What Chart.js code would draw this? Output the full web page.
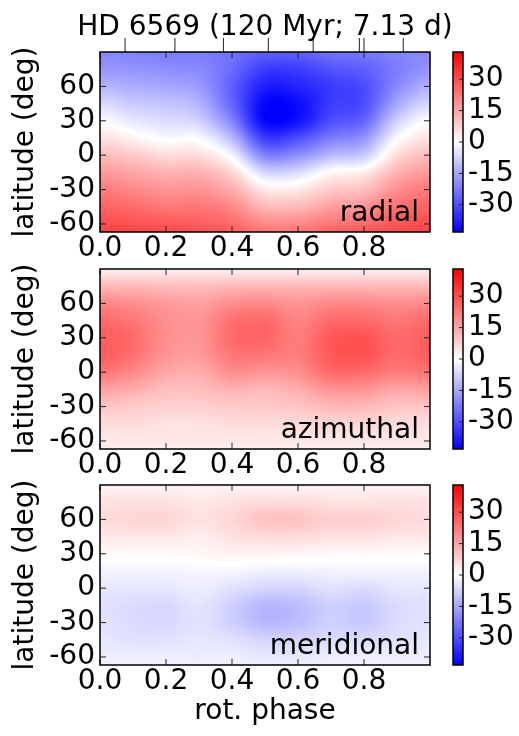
<!DOCTYPE html>
<html>
<head>
<meta charset="utf-8">
<script src="https://cdn.jsdelivr.net/npm/chart.js@4.4.1/dist/chart.umd.min.js"></script>
<style>
  html, body { margin: 0; padding: 0; background: #fff; overflow: hidden; }
  #fig { position: relative; width: 519px; height: 736px; }
  #fig canvas { position: absolute; }
</style>
</head>
<body>
<div id="fig"></div>
<script>
// map grid: rows are latitudes (top to bottom), columns are rotation phases
const phases = [0.0, 0.1, 0.2, 0.3, 0.4, 0.5, 0.6, 0.7, 0.8, 0.9, 1.0];
const latitudes = [90, 75, 60, 45, 30, 15, 0, -15, -30, -45, -60, -67];

// field strength (G)
const radial = [
  [-20, -21, -22, -22, -24, -27, -27, -24, -23, -21, -20],
  [-18, -18, -19, -20, -25, -33, -33, -29, -27, -22, -18],
  [-13, -14, -15, -17, -27, -38, -37, -33, -30, -20, -13],
  [-7, -9, -10, -13, -26, -42, -41, -33, -30, -15, -7],
  [-1, -4, -6, -8, -21, -42, -40, -30, -26, -8, 0],
  [5, 2, -1, -1, -12, -33, -30, -22, -18, -1, 5],
  [11, 9, 6, 6, -2, -21, -19, -12, -9, 6, 11],
  [17, 15, 13, 13, 7, -7, -6, 1, 3, 13, 17],
  [22, 20, 18, 18, 14, 4, 4, 9, 11, 19, 22],
  [26, 25, 23, 23, 20, 12, 12, 16, 18, 24, 26],
  [30, 29, 28, 27, 25, 20, 20, 23, 25, 28, 30],
  [31, 31, 30, 29, 27, 23, 23, 26, 28, 30, 31]
];
const azimuthal = [
  [3, 3, 3, 3, 3, 3, 3, 3, 3, 3, 3],
  [12, 12, 11, 11, 12, 12, 12, 12, 12, 12, 12],
  [20, 19, 17, 16, 19, 20, 18, 20, 20, 19, 20],
  [25, 23, 19, 18, 24, 25, 21, 25, 25, 23, 25],
  [27, 25, 19, 18, 25, 26, 22, 28, 29, 25, 27],
  [27, 24, 18, 17, 23, 23, 22, 28, 29, 25, 27],
  [23, 20, 15, 14, 19, 18, 19, 25, 25, 22, 23],
  [16, 14, 11, 11, 13, 12, 14, 18, 18, 15, 16],
  [10, 9, 8, 8, 9, 9, 10, 12, 12, 10, 10],
  [6, 6, 5, 5, 6, 6, 6, 7, 7, 6, 6],
  [4, 4, 4, 4, 4, 4, 4, 4, 4, 4, 4],
  [3, 3, 3, 3, 3, 3, 3, 3, 3, 3, 3]
];
const meridional = [
  [2, 2, 2, 2, 2, 2, 2, 2, 2, 2, 2],
  [5, 5, 5, 4, 5, 6, 6, 5, 5, 5, 5],
  [6, 7, 7, 5, 7, 10, 10, 8, 8, 7, 6],
  [4, 4, 4, 3, 5, 6, 6, 5, 5, 4, 4],
  [1, 1, 1, 1.5, 2, 2, 1.5, 1, 1, 1, 1],
  [-2, -2, -2, -1.5, -1.5, -2.5, -2.5, -2, -2, -2, -2],
  [-4, -4, -4, -3, -5, -7, -7, -5, -6, -4, -4],
  [-5, -6, -6.5, -4.5, -8, -12, -11, -8, -9, -6, -5],
  [-5, -6, -6.5, -5, -8, -12, -11, -8, -9, -6, -5],
  [-4, -5, -5, -4, -5, -7, -7, -6, -6, -5, -4],
  [-3, -3, -3, -3, -3, -4, -4, -3, -3, -3, -3],
  [-2.5, -2.5, -2.5, -2.5, -2.5, -3, -3, -2.5, -2.5, -2.5, -2.5]
];

const obsPhases = [0.076, 0.227, 0.374, 0.510, 0.646, 0.786, 0.800, 0.919];
const phaseTicks = [0.0, 0.2, 0.4, 0.6, 0.8];
const latTicks = [60, 30, 0, -30, -60];
const cbarTicks = [30, 15, 0, -15, -30];
const vmin = -43, vmax = 43;
const title = 'HD 6569 (120 Myr; 7.13 d)';

const panels = [
  { name: 'radial', grid: radial, top: 52 },
  { name: 'azimuthal', grid: azimuthal, top: 269 },
  { name: 'meridional', grid: meridional, top: 485 }
];

const FONT = 'DejaVu Sans';
const FS = 28;
Chart.defaults.font.family = FONT;
Chart.defaults.color = '#000';

// blue-white-red colour map
function bwr(v) {
  let t = (v - vmin) / (vmax - vmin);
  t = Math.max(0, Math.min(1, t));
  if (t < 0.5) {
    const s = Math.round(255 * t * 2);
    return [s, s, 255];
  }
  const s = Math.round(255 * (1 - (t - 0.5) * 2));
  return [255, s, s];
}

function locate(arr, v) {
  const asc = arr[arr.length - 1] > arr[0];
  for (let i = 0; i < arr.length - 1; i++) {
    const a = arr[i], b = arr[i + 1];
    if ((asc && v <= b) || (!asc && v >= b)) {
      return [i, Math.max(0, Math.min(1, (v - a) / (b - a)))];
    }
  }
  return [arr.length - 2, 1];
}

function cr(p0, p1, p2, p3, t) {
  return 0.5 * (2 * p1 + (-p0 + p2) * t + (2 * p0 - 5 * p1 + 4 * p2 - p3) * t * t +
    (-p0 + 3 * p1 - 3 * p2 + p3) * t * t * t);
}

// smooth the map between grid nodes, like imshow interpolation
function sample(grid, ph, lat) {
  const n = phases.length;
  const [i, tx] = locate(phases, ph);
  const [j, ty] = locate(latitudes, lat);
  const wrap = k => (k < 0 ? k + n - 1 : k > n - 1 ? k - (n - 1) : k);
  const clampRow = k => Math.max(0, Math.min(latitudes.length - 1, k));
  const rowVal = r => {
    const row = grid[clampRow(r)];
    return cr(row[wrap(i - 1)], row[i], row[i + 1], row[wrap(i + 2)], tx);
  };
  return cr(rowVal(j - 1), rowVal(j), rowVal(j + 1), rowVal(j + 2), ty);
}

function line(ctx, x1, y1, x2, y2) {
  ctx.beginPath();
  ctx.moveTo(x1, y1);
  ctx.lineTo(x2, y2);
  ctx.stroke();
}

const heatPlugin = {
  id: 'heat',
  beforeDatasetsDraw(chart, args, opts) {
    const { ctx, chartArea: a, scales: { x, y } } = chart;
    const L = Math.round(a.left), T = Math.round(a.top);
    const W = Math.round(a.right) - L, H = Math.round(a.bottom) - T;
    const img = ctx.createImageData(W, H);
    for (let j = 0; j < H; j++) {
      const lat = y.getValueForPixel(T + j + 0.5);
      for (let i = 0; i < W; i++) {
        const ph = x.getValueForPixel(L + i + 0.5);
        const c = bwr(sample(opts.grid, ph, lat));
        const k = (j * W + i) * 4;
        img.data[k] = c[0]; img.data[k + 1] = c[1]; img.data[k + 2] = c[2]; img.data[k + 3] = 255;
      }
    }
    ctx.putImageData(img, L, T);
  },
  afterDraw(chart, args, opts) {
    const { ctx, chartArea: a, scales: { x, y } } = chart;
    ctx.save();
    ctx.strokeStyle = '#222';
    ctx.lineWidth = 1;
    latTicks.forEach(v => {
      const py = y.getPixelForValue(v);
      line(ctx, a.left, py, a.left + 6, py);
      line(ctx, a.right - 6, py, a.right, py);
    });
    phaseTicks.forEach(v => {
      const px = x.getPixelForValue(v);
      line(ctx, px, a.bottom, px, a.bottom - 6);
      line(ctx, px, a.top, px, a.top + 6);
    });
    if (opts.top) {
      obsPhases.forEach(p => {
        const px = x.getPixelForValue(p);
        line(ctx, px, a.top, px, a.top - 14);
      });
      ctx.fillStyle = '#000';
      ctx.font = FS + 'px "' + FONT + '"';
      ctx.textAlign = 'center';
      ctx.textBaseline = 'alphabetic';
      ctx.fillText(title, (a.left + a.right) / 2, a.top - 17);
    }
    ctx.strokeStyle = '#000';
    ctx.lineWidth = 1.5;
    ctx.strokeRect(a.left, a.top, a.right - a.left, a.bottom - a.top);
    ctx.fillStyle = '#000';
    ctx.font = FS + 'px "' + FONT + '"';
    ctx.textAlign = 'right';
    ctx.textBaseline = 'alphabetic';
    ctx.fillText(opts.label, a.right - 11, a.bottom - 11);
    ctx.restore();
  }
};

const cbarPlugin = {
  id: 'cbar',
  beforeDatasetsDraw(chart) {
    const { ctx, chartArea: a, scales: { y } } = chart;
    const g = ctx.createLinearGradient(0, y.getPixelForValue(vmin), 0, y.getPixelForValue(vmax));
    g.addColorStop(0, 'rgb(0,0,255)');
    g.addColorStop(0.5, 'rgb(255,255,255)');
    g.addColorStop(1, 'rgb(255,0,0)');
    ctx.fillStyle = g;
    ctx.fillRect(a.left, a.top, a.right - a.left, a.bottom - a.top);
  },
  afterDraw(chart) {
    const { ctx, chartArea: a, scales: { y } } = chart;
    ctx.save();
    ctx.strokeStyle = '#222';
    ctx.lineWidth = 1;
    cbarTicks.forEach(v => {
      const py = y.getPixelForValue(v);
      line(ctx, a.right - 4, py, a.right, py);
    });
    ctx.strokeStyle = '#000';
    ctx.lineWidth = 1.5;
    ctx.strokeRect(a.left, a.top, a.right - a.left, a.bottom - a.top);
    ctx.restore();
  }
};

function addCanvas(left, top, w, h) {
  const c = document.createElement('canvas');
  c.width = w; c.height = h;
  c.style.left = left + 'px'; c.style.top = top + 'px';
  c.style.width = w + 'px'; c.style.height = h + 'px';
  document.getElementById('fig').appendChild(c);
  return c.getContext('2d');
}

const tickFont = { family: FONT, size: FS, lineHeight: 1 };

panels.forEach((p, idx) => {
  const last = idx === panels.length - 1;
  const ctx = addCanvas(0, p.top - 52, 519, 304);
  new Chart(ctx, {
    type: 'scatter',
    data: { datasets: [{ data: [], pointRadius: 0 }] },
    options: {
      responsive: false,
      animation: false,
      devicePixelRatio: 1,
      layout: { padding: { left: 0, right: 89, top: 52, bottom: 0 } },
      plugins: {
        legend: { display: false },
        tooltip: { enabled: false },
        heat: { grid: p.grid, label: p.name, top: idx === 0 }
      },
      scales: {
        x: {
          type: 'linear', min: 0, max: 1,
          afterBuildTicks: s => { s.ticks = phaseTicks.map(v => ({ value: v })); },
          afterFit: s => { s.height = 72; },
          grid: { display: false, drawTicks: false },
          border: { display: false },
          ticks: { font: tickFont, padding: 3, maxRotation: 0, minRotation: 0, autoSkip: false,
            callback: v => v.toFixed(1) },
          title: { display: last, text: 'rot. phase', font: { family: FONT, size: FS, lineHeight: 1.2 },
            padding: { top: 0, bottom: 8 } }
        },
        y: {
          type: 'linear', min: -67, max: 90,
          afterBuildTicks: s => { s.ticks = latTicks.map(v => ({ value: v })); },
          afterFit: s => { s.width = 100; },
          grid: { display: false, drawTicks: false },
          border: { display: false },
          ticks: { font: tickFont, padding: 5, autoSkip: false, callback: v => String(v) },
          title: { display: true, text: 'latitude (deg)', font: { family: FONT, size: FS, lineHeight: 1.2 },
            padding: { top: 9, bottom: 0 } }
        }
      }
    },
    plugins: [heatPlugin]
  });

  const cctx = addCanvas(440, p.top - 52, 79, 304);
  new Chart(cctx, {
    type: 'scatter',
    data: { datasets: [{ data: [], pointRadius: 0 }] },
    options: {
      responsive: false,
      animation: false,
      devicePixelRatio: 1,
      layout: { padding: { left: 13, right: 0, top: 52, bottom: 72 } },
      plugins: { legend: { display: false }, tooltip: { enabled: false } },
      scales: {
        x: { type: 'linear', display: false, min: 0, max: 1 },
        y: {
          type: 'linear', position: 'right', min: vmin, max: vmax,
          afterBuildTicks: s => { s.ticks = cbarTicks.map(v => ({ value: v })); },
          afterFit: s => { s.width = 56; },
          grid: { display: false, drawTicks: false },
          border: { display: false },
          ticks: { font: tickFont, padding: 5, autoSkip: false, callback: v => String(v) }
        }
      }
    },
    plugins: [cbarPlugin]
  });
});
</script>
</body>
</html>
